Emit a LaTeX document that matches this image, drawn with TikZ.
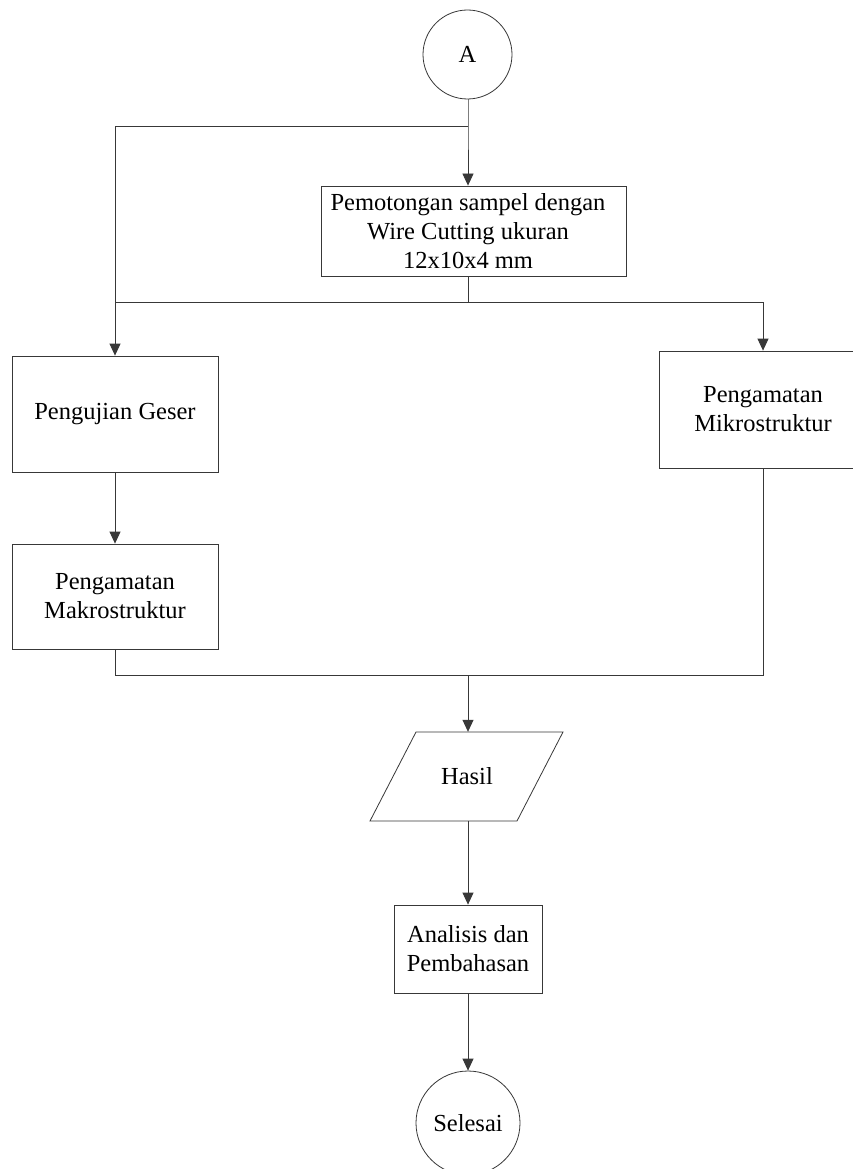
\documentclass[tikz,border=0pt]{standalone}
\usepackage{fontspec}
\setmainfont{Liberation Serif}
\usetikzlibrary{arrows.meta}
\begin{document}
\begin{tikzpicture}[x=1pt,y=-1pt,
  ln/.style={draw=black!78, line width=0.8pt},
  arr/.style={ln, -{Triangle[length=12pt,width=11pt]}},
  txt/.style={font=\fontsize{24.5}{29}\selectfont, align=center, inner sep=0pt},
  procbox/.style={txt, ln, rectangle},
  term/.style={txt, ln, circle}
]
\clip (0,0) rectangle (853,1169);
\fill[white] (0,0) rectangle (853,1169);

\node[term, minimum size=89pt] (A) at (467.5,54.5) {A};
\node[procbox, minimum width=305pt, minimum height=90pt,
  label={[txt, xshift=-5.5pt]center:{Pemotongan sampel dengan\\Wire Cutting ukuran\\12x10x4 mm}}] (cut) at (473.5,231) {};
\node[procbox, minimum width=206pt, minimum height=116pt] (geser) at (115,414) {Pengujian Geser};
\node[procbox, minimum width=208pt, minimum height=117pt] (mikro) at (763,409.5) {Pengamatan\\Mikrostruktur};
\node[procbox, minimum width=206pt, minimum height=105pt] (makro) at (115,596.5) {Pengamatan\\Makrostruktur};
\node[txt, minimum width=100pt, minimum height=89pt] (hasil) at (467,776.5) {Hasil};
\draw[ln] (416,732) -- (563,732) -- (517,821) -- (370,821) -- cycle;
\node[procbox, minimum width=148pt, minimum height=88pt] (anal) at (468,949) {Analisis dan\\Pembahasan};
\node[term, minimum size=104pt] (sel) at (468,1123) {Selesai};

\coordinate (j1) at (468,126);
\coordinate (j1l) at (115,126);
\coordinate (j2) at (468,302);
\coordinate (j2l) at (115,302);
\coordinate (j2r) at (763,302);
\coordinate (j3) at (468,675);
\coordinate (j3l) at (115,675);
\coordinate (j3r) at (763,675);

\draw[arr] (A.south -| j1) -- (j1) -- (j1 |- cut.north);
\draw[arr] (j1) -- (j1l) -- (geser.north);
\draw[ln] (cut.south -| j2) -- (j2);
\draw[arr] (j2l) -- (j2r) -- (mikro.north);
\draw[arr] (geser.south) -- (makro.north);
\draw[ln] (makro.south) -- (j3l) -- (j3r) -- (mikro.south);
\draw[arr] (j3) -- (j3 |- hasil.north);
\draw[arr] (hasil.south -| anal.north) -- (anal.north);
\draw[arr] (anal.south) -- (sel.north);
\end{tikzpicture}
\end{document}
